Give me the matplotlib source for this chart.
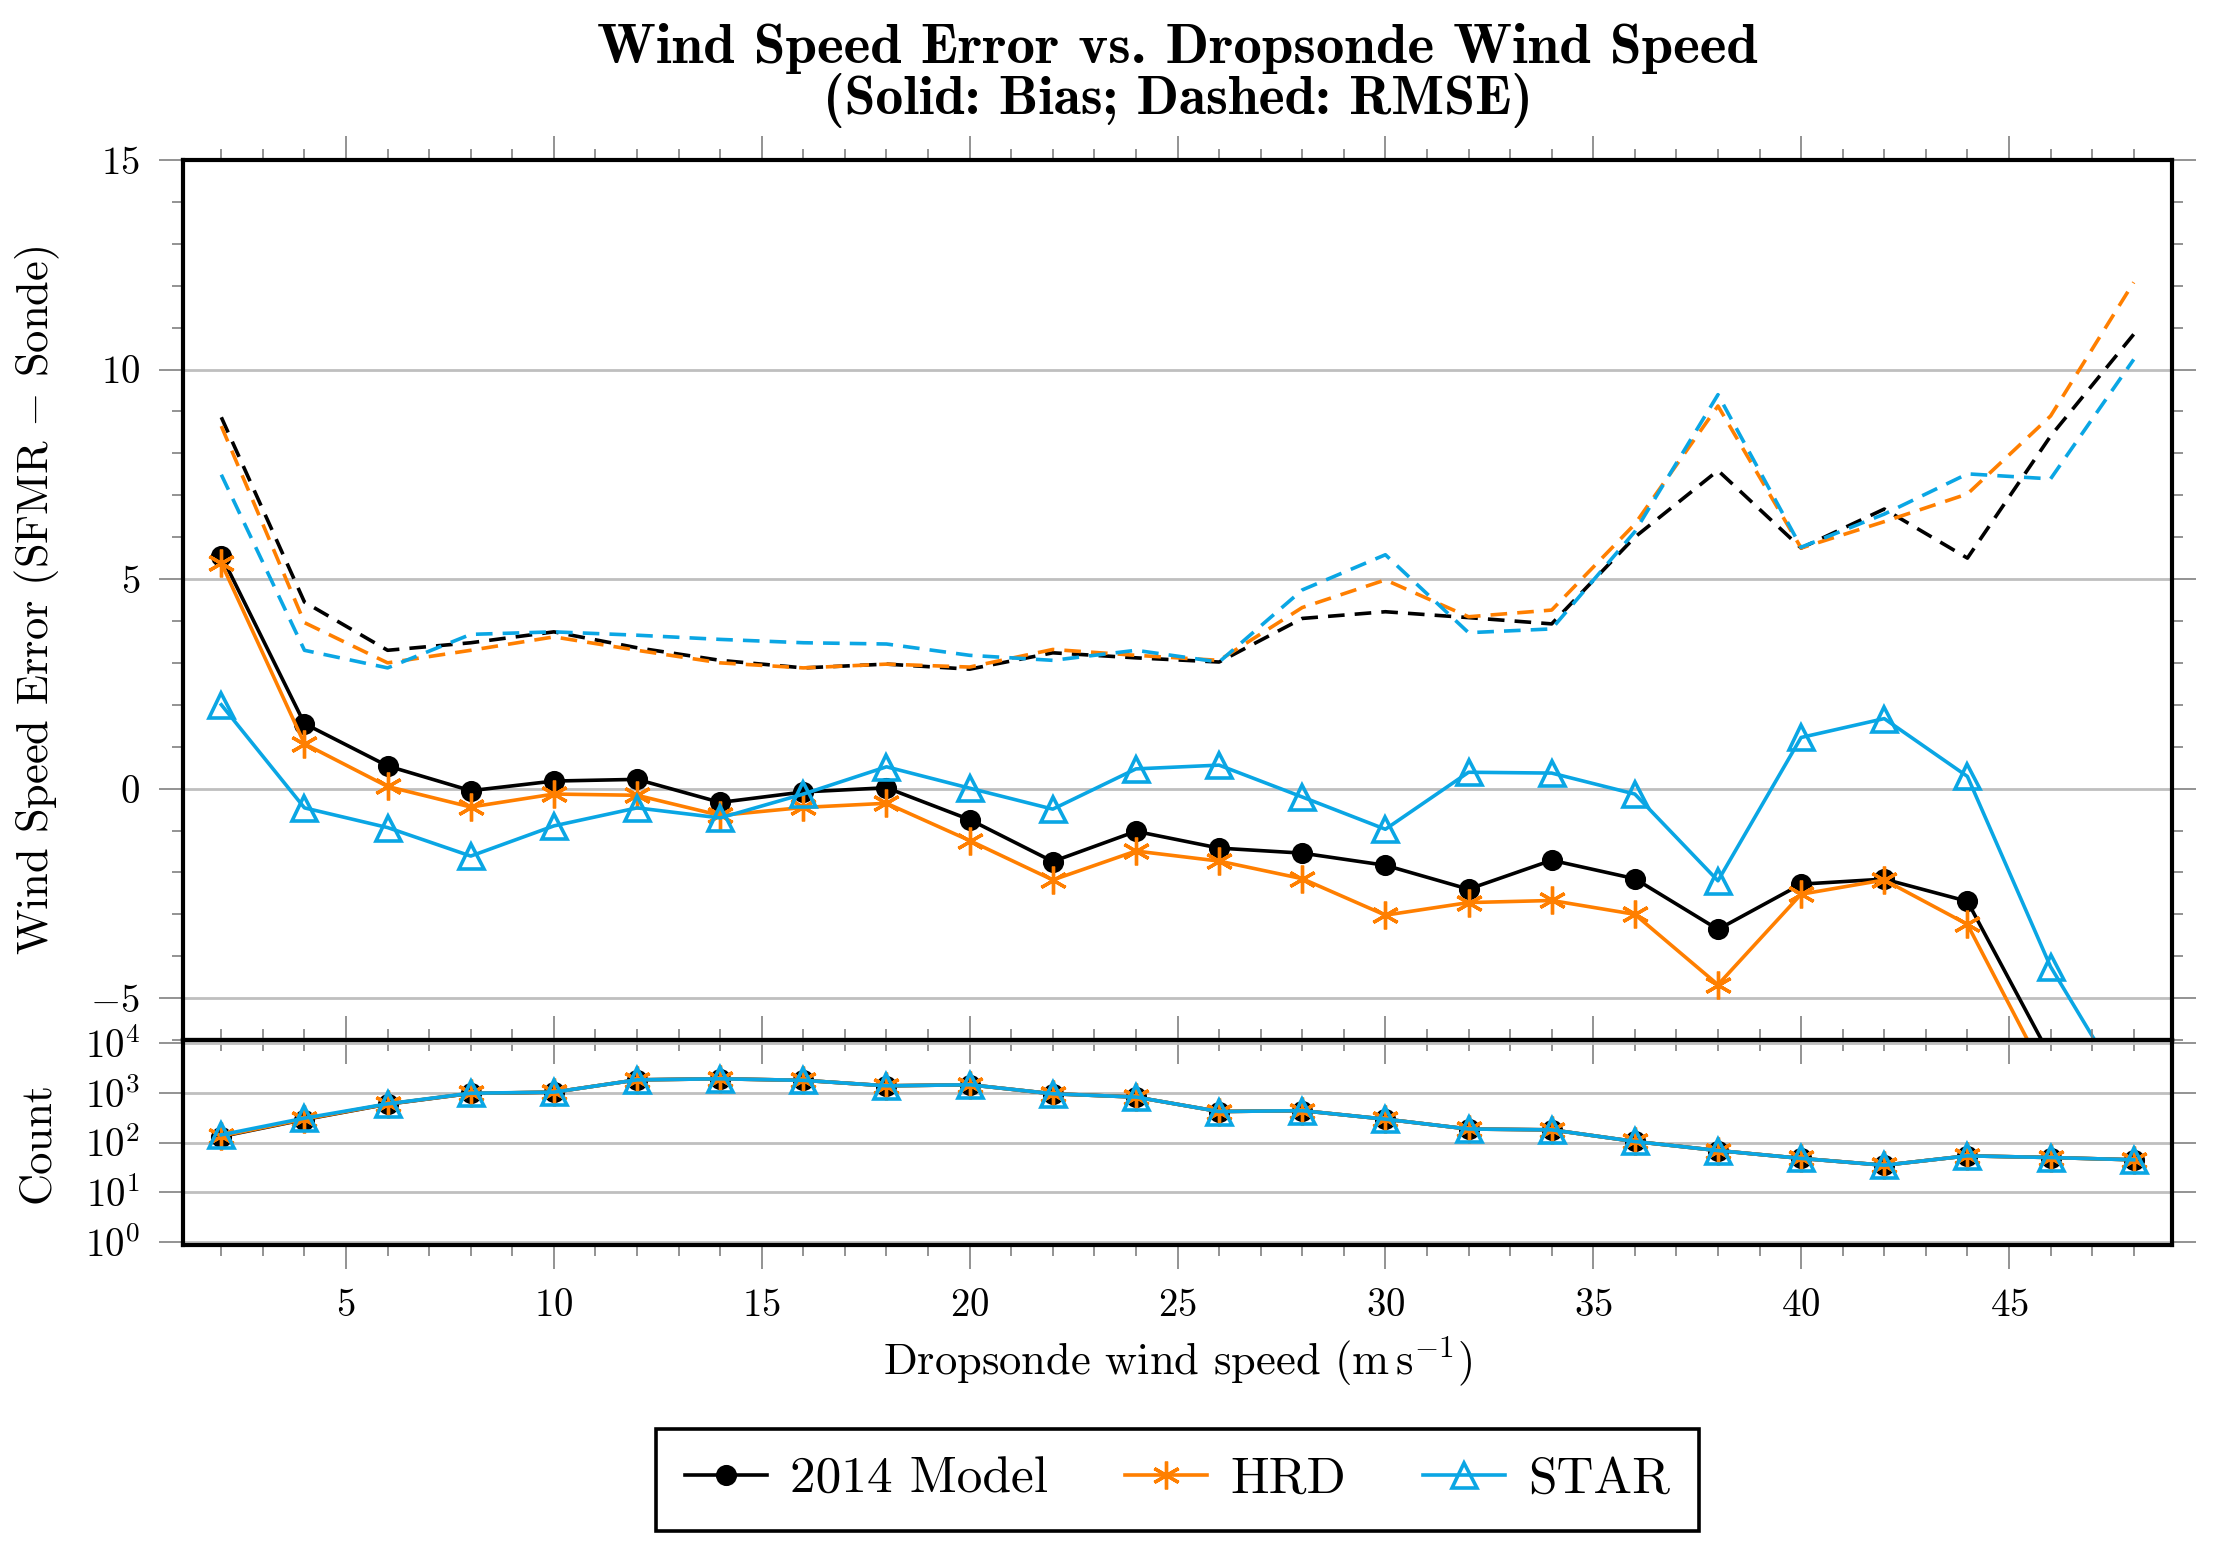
import numpy as np
import matplotlib
matplotlib.use("Agg")
from matplotlib import pyplot as plt
from matplotlib.ticker import MultipleLocator, FixedLocator, FixedFormatter, FuncFormatter, LogLocator, NullFormatter
from matplotlib.lines import Line2D

# --- data ---
wind_speed = [2, 4, 6, 8, 10, 12, 14, 16, 18, 20, 22, 24,
              26, 28, 30, 32, 34, 36, 38, 40, 42, 44, 46, 48]

bias_model = [5.56, 1.55, 0.54, -0.05, 0.18, 0.22, -0.33, -0.08, 0.02, -0.74, -1.74, -1.02,
              -1.42, -1.54, -1.83, -2.40, -1.71, -2.15, -3.36, -2.28, -2.16, -2.69, -6.40, -8.9]
bias_hrd = [5.38, 1.07, 0.05, -0.44, -0.13, -0.16, -0.64, -0.45, -0.35, -1.24, -2.18, -1.49,
            -1.73, -2.15, -3.02, -2.72, -2.67, -3.00, -4.68, -2.52, -2.18, -3.24, -7.05, -9.9]
bias_star = [2.00, -0.46, -0.93, -1.61, -0.89, -0.46, -0.70, -0.13, 0.52, 0.01, -0.49, 0.47,
             0.56, -0.20, -0.97, 0.39, 0.37, -0.13, -2.20, 1.22, 1.67, 0.29, -4.25, -7.55]

rmse_model = [8.86, 4.45, 3.30, 3.48, 3.74, 3.36, 3.06, 2.88, 2.97, 2.85, 3.24, 3.12,
              3.02, 4.06, 4.22, 4.08, 3.93, 6.00, 7.59, 5.74, 6.67, 5.50, 8.41, 10.84]
rmse_hrd = [8.65, 3.96, 3.00, 3.30, 3.62, 3.30, 3.00, 2.88, 2.97, 2.90, 3.32, 3.18,
            3.06, 4.32, 4.98, 4.10, 4.26, 6.31, 9.13, 5.74, 6.37, 7.03, 8.89, 12.08]
rmse_star = [7.49, 3.30, 2.88, 3.68, 3.74, 3.66, 3.56, 3.48, 3.45, 3.18, 3.06, 3.30,
             3.02, 4.74, 5.58, 3.72, 3.81, 6.13, 9.40, 5.76, 6.55, 7.51, 7.39, 10.24]

count_model = [132, 290, 590, 970, 1030, 1820, 1910, 1780, 1380, 1450, 955, 820,
               420, 437, 295, 187, 180, 105, 69, 48, 35, 54, 50, 45]
count_hrd = [135, 295, 595, 975, 1030, 1820, 1910, 1780, 1380, 1450, 955, 820,
             420, 437, 295, 187, 180, 105, 69, 48, 35, 54, 50, 45]
count_star = [143, 309, 600, 980, 1030, 1820, 1910, 1780, 1380, 1450, 955, 820,
              420, 437, 295, 187, 180, 105, 69, 48, 35, 54, 50, 45]

labels = ["2014 Model", "HRD", "STAR"]
colors = ["black", "#ff7f00", "#0aa6e4"]

plt.rcParams["font.family"] = ["cmr10"]
plt.rcParams["mathtext.fontset"] = "cm"
plt.rcParams["axes.unicode_minus"] = False

STAR_MARK = (6, 2, 0)
mk = [dict(marker="o", ms=7, mfc="black", mec="black", mew=0.6),
      dict(marker=STAR_MARK, ms=10, mec=colors[1], mew=1.2),
      dict(marker="^", ms=9, mfc="none", mec=colors[2], mew=1.3)]

GRID_C = "#bfbfbf"
TICK_C = "#808080"
FS_TICK = 14
FS_LABEL = 16
LW = 1.3


def style_axes(ax):
    for _sp in ax.spines.values():
        _sp.set_linewidth(1.5)
        _sp.set_zorder(5)
    ax.tick_params(which="both", direction="out", top=True, right=True,
                   color=TICK_C, width=0.6, labelsize=FS_TICK, pad=7)
    ax.tick_params(which="major", length=8.5)
    ax.tick_params(which="minor", length=4)
    ax.set_xlim(1.08, 48.92)
    ax.xaxis.set_major_locator(MultipleLocator(5))
    ax.xaxis.set_minor_locator(MultipleLocator(1))
    ax.set_axisbelow(True)
    ax.yaxis.grid(True, which="major", color=GRID_C, lw=1.0)


fig = plt.figure(figsize=(2219 / 200, 1553 / 200), dpi=200)
ax1 = fig.add_axes([0.0825, 0.3303, 0.8963, 0.5667])
ax2 = fig.add_axes([0.0825, 0.1983, 0.8963, 0.1320])
ax2.patch.set_visible(False)

# top panel: bias (solid) and rmse (dashed)
for _b, _r, _c, _m, _l in zip([bias_model, bias_hrd, bias_star],
                              [rmse_model, rmse_hrd, rmse_star],
                              colors, mk, labels):
    ax1.plot(wind_speed, _r, color=_c, lw=LW, ls=(0, (4.6, 2.8)))
    ax1.plot(wind_speed, _b, color=_c, lw=LW, label=_l, **_m)

style_axes(ax1)
ax1.set_ylim(-6, 15)
ax1.yaxis.set_major_locator(MultipleLocator(5))
ax1.yaxis.set_minor_locator(MultipleLocator(1))
ax1.yaxis.set_major_formatter(FuncFormatter(lambda v, p: r"$%g$" % v))
ax1.tick_params(axis="x", which="both", labelbottom=False)
ax1.set_ylabel(r"Wind Speed Error (SFMR $-$ Sonde)", fontsize=FS_LABEL, va="center")
ax1.yaxis.set_label_coords(-0.073, 0.5)

# bottom panel: counts
for _n, _c, _m in zip([count_model, count_hrd, count_star], colors, mk):
    ax2.plot(wind_speed, _n, color=_c, lw=LW, **_m)

style_axes(ax2)
ax2.set_yscale("log")
ax2.set_ylim(10 ** -0.06, 10 ** 4.06)
ax2.yaxis.set_major_locator(FixedLocator([1, 10, 100, 1000, 10000]))
ax2.yaxis.set_major_formatter(FixedFormatter([r"$10^{%d}$" % _i for _i in range(5)]))
ax2.yaxis.set_minor_locator(LogLocator(base=10, subs=np.arange(2, 10)))
ax2.yaxis.set_minor_formatter(NullFormatter())
ax2.xaxis.set_major_formatter(FuncFormatter(lambda v, p: r"$%g$" % v))
ax2.set_ylabel("Count", fontsize=FS_LABEL, va="center")
ax2.yaxis.set_label_coords(-0.073, 0.5)
ax2.set_xlabel(r"Dropsonde wind speed ($\mathrm{m\,s^{-1}}$)", fontsize=FS_LABEL)
ax2.xaxis.set_label_coords(0.5, -0.566)
ax2.xaxis.label.set_va("center")

# title
xc = 0.0825 + 0.8963 / 2
fig.text(xc, 1 - 48 / 1553, "Wind Speed Error vs. Dropsonde Wind Speed",
         family="cmb10", fontsize=20.5, ha="center", va="center")
fig.text(xc, 1 - 100 / 1553, "(Solid: Bias; Dashed: RMSE)",
         family="cmb10", fontsize=20, ha="center", va="center")

handles = [Line2D([], [], color=_c, lw=LW, **_m) for _c, _m in zip(colors, mk)]
leg = fig.legend(handles, labels, loc="center", bbox_to_anchor=(xc, 0.047), ncol=3,
                 fontsize=18.5, frameon=True, fancybox=False, edgecolor="black",
                 framealpha=1, borderpad=0.55, handlelength=1.6, handletextpad=0.45,
                 columnspacing=1.5)
leg.get_frame().set_linewidth(1.3)

fig.savefig("out.png", dpi=200)
